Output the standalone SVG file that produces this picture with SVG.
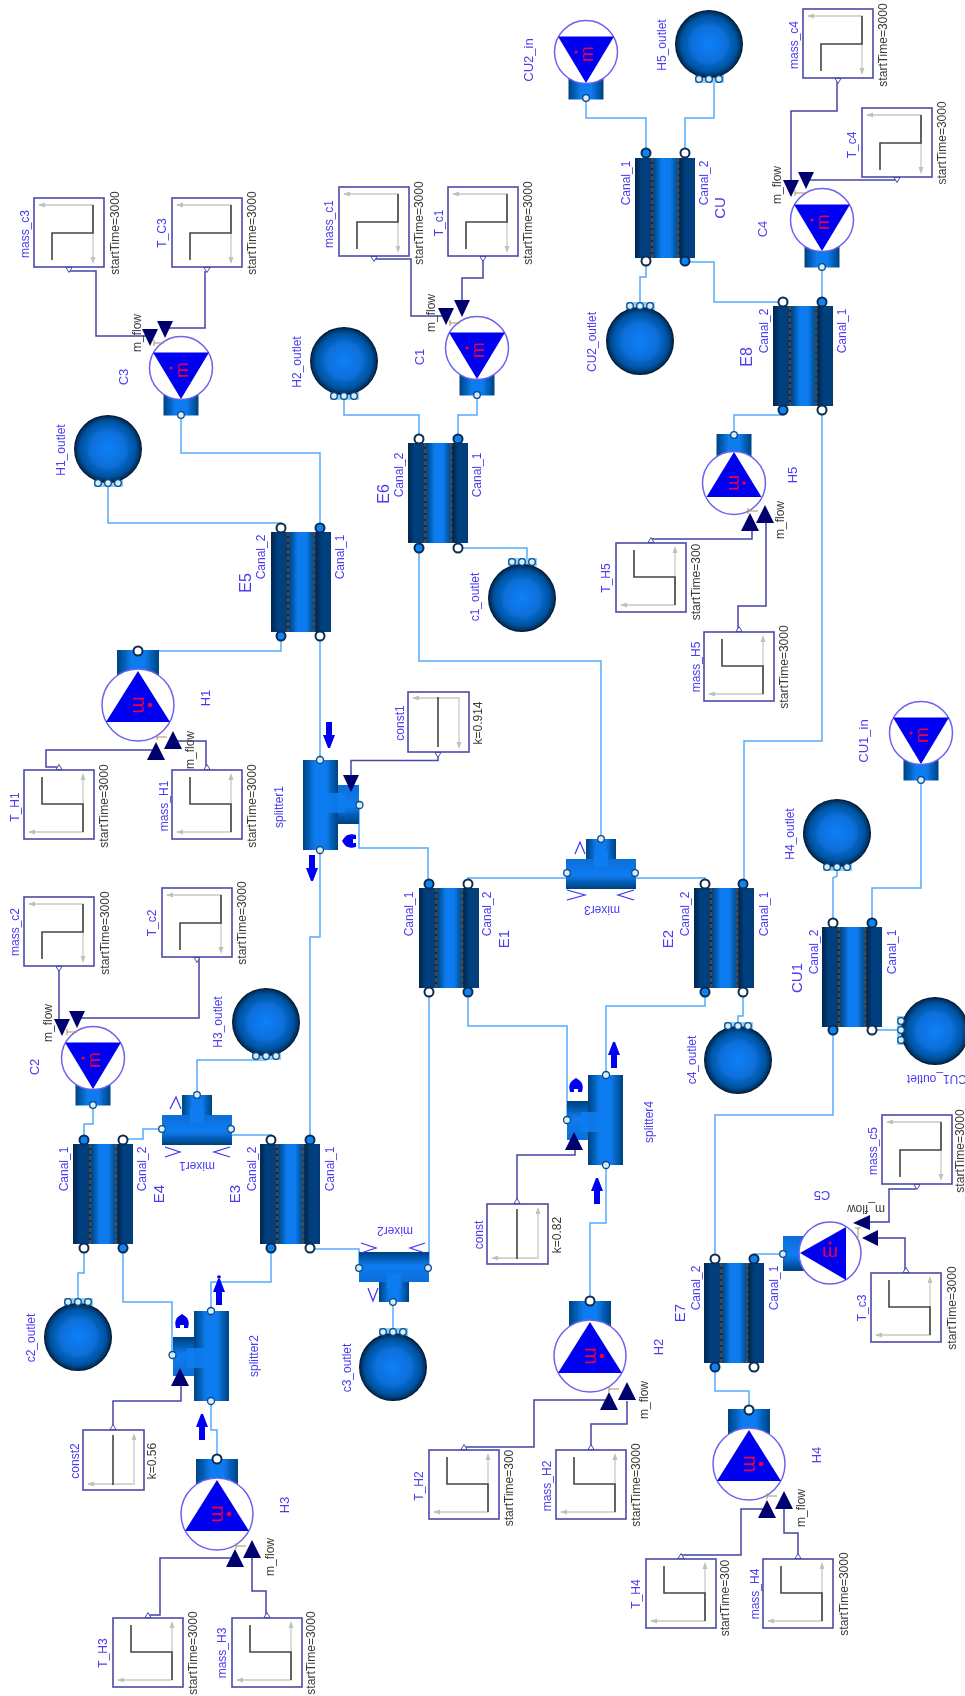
<svg xmlns="http://www.w3.org/2000/svg" width="965" height="1696" viewBox="0 0 965 1696">
<style>
text{font-family:"Liberation Sans",Arial,sans-serif;font-size:12px;text-anchor:middle}
.l{fill:#4a3cf0}
.g{fill:#3a3a3a}
.b{fill:#4a3cf0;font-size:15px}
.n{fill:#4a3cf0;font-size:13px}
.o{fill:#4a3cf0;font-size:12px}
.mm{fill:#f0003c;font-size:19px}
.w{fill:none;stroke:#55aaff;stroke-width:1.5}
.s{fill:none;stroke:#4646a6;stroke-width:1.5}
.pw{fill:#fff;stroke:#0c2c50;stroke-width:2}
.pb{fill:#0a84f5;stroke:#0c2c50;stroke-width:2}
.ps{fill:#d5edff;stroke:#0b4a80;stroke-width:1.3}
.v{fill:none;stroke:#3a30ff;stroke-width:1.2}
.nv{fill:#00006e}
.ar{fill:#0000f0}
.tk{fill:none;stroke:#a8925a;stroke-width:1}
.pt{fill:#8ccfff}
</style>
<defs>
<filter id="soft" x="0" y="0" width="100%" height="100%"><feGaussianBlur stdDeviation="0.45"/></filter>
<linearGradient id="gh"><stop offset="0" stop-color="#00427f"/><stop offset=".35" stop-color="#0a7cf0"/><stop offset=".65" stop-color="#0a7cf0"/><stop offset="1" stop-color="#00427f"/></linearGradient>
<linearGradient id="gv" x2="0" y2="1"><stop offset="0" stop-color="#0a6ed8"/><stop offset=".55" stop-color="#0a7cf0"/><stop offset="1" stop-color="#003f7c"/></linearGradient>
<linearGradient id="gsd"><stop offset="0" stop-color="#00254f"/><stop offset=".4" stop-color="#023f7e"/><stop offset="1" stop-color="#023f7e"/></linearGradient>
<radialGradient id="gr"><stop offset="0" stop-color="#0a80f8"/><stop offset=".5" stop-color="#0a70dc"/><stop offset=".82" stop-color="#00529e"/><stop offset=".95" stop-color="#00305f"/><stop offset="1" stop-color="#000c20"/></radialGradient>
<g id="hx">
<rect width="60" height="100" fill="#0d2c50"/>
<rect x=".5" width="15" height="100" fill="url(#gsd)"/>
<rect x="44.500" width="15" height="100" fill="url(#gsd)"/>
<rect x="18" width="26" height="100" fill="url(#gh)"/>
<path d="M17,0V100M43,0V100" stroke="#4a4a4a" stroke-width="2.500" stroke-dasharray="4 2" fill="none"/>
</g>
<g id="step">
<rect width="70" height="69" fill="#fff" stroke="#4a4aa8" stroke-width="1.600"/>
<path d="M5,7H59V64" fill="none" stroke="#c8c8c8" stroke-width="1.300"/>
<path d="M4,7l7-2.500v5zM59,66l-2.500-7h5z" fill="#c0c0c0"/>
<path d="M18,62V35H59V7" fill="none" stroke="#444" stroke-width="1.600"/>
<path d="M32,69.500h6l-3,5z" fill="#fff" stroke="#4a4aa8" stroke-width="1"/>
</g>
<g id="konst">
<rect width="61" height="60" fill="#fff" stroke="#4a4aa8" stroke-width="1.600"/>
<path d="M5,6H51V55" fill="none" stroke="#c8c8c8" stroke-width="1.300"/>
<path d="M4,6l7-2.500v5zM51,57l-2.500-7h5z" fill="#c0c0c0"/>
<path d="M30,5V55" fill="none" stroke="#444" stroke-width="1.600"/>
<path d="M27,60.500h6l-3,5z" fill="#fff" stroke="#4a4aa8" stroke-width="1"/>
</g>
<g id="pd">
<rect x="-17.500" y="10" width="35" height="37.500" fill="url(#gh)"/>
<circle r="31.500" fill="#fff" stroke="#6c62f0" stroke-width="1.500"/>
<path d="M-28,-15.500H28L0,31Z" fill="#0000f0"/>
<circle cx="-10" cy="0" r="1.600" fill="#f0003c"/>
</g>
<g id="pu">
<rect x="-21" y="-55" width="42" height="34" fill="url(#gh)"/>
<circle r="36" fill="#fff" stroke="#6c62f0" stroke-width="1.500"/>
<path d="M-32,17H32L0,-34Z" fill="#0000f0"/>
<circle cx="12" cy="0" r="2.200" fill="#f0003c"/>
</g>
<g id="pu5">
<rect x="-17.500" y="-49" width="35" height="28" fill="url(#gh)"/>
<circle r="31.500" fill="#fff" stroke="#6c62f0" stroke-width="1.500"/>
<path d="M-27.500,14H27.500L0,-31Z" fill="#0000f0"/>
<circle cx="10" cy="0" r="1.800" fill="#f0003c"/>
</g>
<circle id="sk" r="34" fill="url(#gr)"/>
<path id="td" class="nv" d="M-8,0H8L0,17Z"/>
<path id="tu" class="nv" d="M-9,18H9L0,0Z"/>
<path id="ad" class="ar" d="M-3,-13H3V0H6L1,13H-1L-6,0H-3Z"/>
<path id="bl" class="ar" d="M-7,0C-5,-3 -3,-6 -1,-6C1,-7 3,-7 7,-6V-2H4V2H7V6C3,7 1,7 -1,6C-3,6 -5,3 -7,0Z"/>
<path id="tg" class="tk" d="M-5,0H5M-5,-3V3"/>
<g id="spl">
<rect x="33" y="25" width="23" height="39" fill="url(#gv)"/>
<rect width="35" height="90" fill="url(#gh)"/>
<rect x="22" y="33" width="20" height="20" fill="#0a7cf0" opacity=".9"/>
</g>
<g id="mix">
<rect x="20" y="0" width="30" height="25" fill="url(#gh)"/>
<rect x="0" y="20" width="70" height="30" fill="url(#gv)"/>
<rect x="28" y="14" width="14" height="14" fill="#0a7cf0"/>
</g>
</defs>
<rect width="965" height="1696" fill="#fff"/>
<g id="diagram" filter="url(#soft)">
<g id="connectors">
<path class="w" d="M181,416V453H320V528"/>
<path class="w" d="M108,483V523H281V528"/>
<path class="w" d="M281,636V651H138"/>
<path class="w" d="M320,636V760"/>
<path class="w" d="M359,805V848H428V884"/>
<path class="w" d="M320,850V937H310V1140"/>
<path class="w" d="M419,548V661H601V839"/>
<path class="w" d="M477,395V415H458V439"/>
<path class="w" d="M344,396V415H419V439"/>
<path class="w" d="M458,548H527V562"/>
<path class="w" d="M586,98V118H646V153"/>
<path class="w" d="M714,79V118H685V153"/>
<path class="w" d="M646,261V277H640V306"/>
<path class="w" d="M685,262H714V302H783"/>
<path class="w" d="M822,267V302"/>
<path class="w" d="M783,410V415H734V435"/>
<path class="w" d="M822,410V741H744V884"/>
<path class="w" d="M635,873V878H705V884"/>
<path class="w" d="M567,873V878H468V884"/>
<path class="w" d="M468,992V1026H567V1120"/>
<path class="w" d="M429,992V1268"/>
<path class="w" d="M705,992V1006H606V1075"/>
<path class="w" d="M743,992V1016H738V1026"/>
<path class="w" d="M833,923V878L837,876V867"/>
<path class="w" d="M872,923V888H921V780"/>
<path class="w" d="M872,1030H901"/>
<path class="w" d="M833,1030V1115H715V1259"/>
<path class="w" d="M754,1259V1254H783"/>
<path class="w" d="M715,1367V1391H749V1410"/>
<path class="w" d="M590,1301V1223H606V1165"/>
<path class="w" d="M217,1459V1430H211V1401"/>
<path class="w" d="M271,1248V1282H211V1311"/>
<path class="w" d="M310,1248V1249H359V1268"/>
<path class="w" d="M123,1248V1302H172V1355"/>
<path class="w" d="M84,1248V1273H78V1302"/>
<path class="w" d="M393,1302V1332"/>
<path class="w" d="M162,1129H143V1139H128"/>
<path class="w" d="M231,1129V1135H271V1140"/>
<path class="w" d="M197,1095V1060H266V1056"/>
<path class="w" d="M93,1105V1124H84V1140"/>
<path class="s" d="M69,271H96V336H150"/>
<path class="s" d="M205,271V328H165"/>
<path class="s" d="M374,259H411V316H446"/>
<path class="s" d="M483,259V278H462V300"/>
<path class="s" d="M837,79V111H791V180"/>
<path class="s" d="M897,180H806"/>
<path class="s" d="M59,966V1019"/>
<path class="s" d="M199,957V1018H77"/>
<path class="s" d="M59,767H46V750H156"/>
<path class="s" d="M206,770V741H173"/>
<path class="s" d="M147,1615H160V1558H235"/>
<path class="s" d="M266,1618V1591H252V1558"/>
<path class="s" d="M463,1447H534V1400H609"/>
<path class="s" d="M591,1450V1424H627V1401"/>
<path class="s" d="M680,1555H741V1509H767"/>
<path class="s" d="M798,1559V1533H784V1509"/>
<path class="s" d="M651,539H752V529"/>
<path class="s" d="M738,631V606H766V522"/>
<path class="s" d="M916,1189H889V1222H870"/>
<path class="s" d="M905,1270V1238H878"/>
<path class="s" d="M438,755V760.500H351V775"/>
<path class="s" d="M113,1426V1401H181V1386"/>
<path class="s" d="M517,1204V1155H575V1150"/>
</g>
<g id="E5"><use href="#hx" transform="translate(271,532)"/><circle class="pw" cx="281" cy="528" r="4.500"/><circle class="pb" cx="320" cy="528" r="4.500"/><circle class="pb" cx="281" cy="636" r="4.500"/><circle class="pw" cx="320" cy="636" r="4.500"/><text class="l" transform="translate(265,557) rotate(-90)">Canal_2</text><text class="l" transform="translate(344,557) rotate(-90)">Canal_1</text><text class="b" transform="translate(251,583) rotate(-90)" style="font-size:16px">E5</text></g>
<g id="E6"><use href="#hx" transform="translate(408,443)"/><circle class="pw" cx="419" cy="439" r="4.500"/><circle class="pb" cx="458" cy="439" r="4.500"/><circle class="pb" cx="419" cy="548" r="4.500"/><circle class="pw" cx="458" cy="548" r="4.500"/><text class="l" transform="translate(403,475) rotate(-90)">Canal_2</text><text class="l" transform="translate(481,475) rotate(-90)">Canal_1</text><text class="b" transform="translate(389,494) rotate(-90)" style="font-size:16px">E6</text></g>
<g id="CU"><use href="#hx" transform="translate(635,158)"/><circle class="pb" cx="646" cy="153" r="4.500"/><circle class="pw" cx="685" cy="153" r="4.500"/><circle class="pw" cx="646" cy="261" r="4.500"/><circle class="pb" cx="685" cy="261" r="4.500"/><text class="l" transform="translate(630,183) rotate(-90)">Canal_1</text><text class="l" transform="translate(708,183) rotate(-90)">Canal_2</text><text class="b" transform="translate(725,208) rotate(-90)">CU</text></g>
<g id="E8"><use href="#hx" transform="translate(773,306)"/><circle class="pw" cx="783" cy="302" r="4.500"/><circle class="pb" cx="822" cy="302" r="4.500"/><circle class="pb" cx="783" cy="410" r="4.500"/><circle class="pw" cx="822" cy="410" r="4.500"/><text class="l" transform="translate(768,331) rotate(-90)">Canal_2</text><text class="l" transform="translate(846,331) rotate(-90)">Canal_1</text><text class="b" transform="translate(752,357) rotate(-90)" style="font-size:16px">E8</text></g>
<g id="E1"><use href="#hx" transform="translate(419,888)"/><circle class="pb" cx="429" cy="884" r="4.500"/><circle class="pw" cx="468" cy="884" r="4.500"/><circle class="pw" cx="429" cy="992" r="4.500"/><circle class="pb" cx="468" cy="992" r="4.500"/><text class="l" transform="translate(413,914) rotate(-90)">Canal_1</text><text class="l" transform="translate(491,914) rotate(-90)">Canal_2</text><text class="b" transform="translate(509,939) rotate(-90)">E1</text></g>
<g id="E2"><use href="#hx" transform="translate(694,888)"/><circle class="pw" cx="705" cy="884" r="4.500"/><circle class="pb" cx="743" cy="884" r="4.500"/><circle class="pb" cx="705" cy="992" r="4.500"/><circle class="pw" cx="743" cy="992" r="4.500"/><text class="l" transform="translate(689,914) rotate(-90)">Canal_2</text><text class="l" transform="translate(768,914) rotate(-90)">Canal_1</text><text class="b" transform="translate(673,939) rotate(-90)">E2</text></g>
<g id="CU1"><use href="#hx" transform="translate(822,927)"/><circle class="pw" cx="833" cy="923" r="4.500"/><circle class="pb" cx="872" cy="923" r="4.500"/><circle class="pb" cx="833" cy="1030" r="4.500"/><circle class="pw" cx="872" cy="1030" r="4.500"/><text class="l" transform="translate(818,952) rotate(-90)">Canal_2</text><text class="l" transform="translate(896,952) rotate(-90)">Canal_1</text><text class="b" transform="translate(802,978) rotate(-90)">CU1</text></g>
<g id="E4"><use href="#hx" transform="translate(73,1144)"/><circle class="pb" cx="84" cy="1140" r="4.500"/><circle class="pw" cx="123" cy="1140" r="4.500"/><circle class="pw" cx="84" cy="1248" r="4.500"/><circle class="pb" cx="123" cy="1248" r="4.500"/><text class="l" transform="translate(68,1169) rotate(-90)">Canal_1</text><text class="l" transform="translate(146,1169) rotate(-90)">Canal_2</text><text class="b" transform="translate(164,1194) rotate(-90)">E4</text></g>
<g id="E3"><use href="#hx" transform="translate(260,1144)"/><circle class="pw" cx="271" cy="1140" r="4.500"/><circle class="pb" cx="310" cy="1140" r="4.500"/><circle class="pb" cx="271" cy="1248" r="4.500"/><circle class="pw" cx="310" cy="1248" r="4.500"/><text class="l" transform="translate(256,1169) rotate(-90)">Canal_2</text><text class="l" transform="translate(334,1169) rotate(-90)">Canal_1</text><text class="b" transform="translate(240,1194) rotate(-90)">E3</text></g>
<g id="E7"><use href="#hx" transform="translate(704,1263)"/><circle class="pw" cx="715" cy="1259" r="4.500"/><circle class="pb" cx="754" cy="1259" r="4.500"/><circle class="pb" cx="715" cy="1367" r="4.500"/><circle class="pw" cx="754" cy="1367" r="4.500"/><text class="l" transform="translate(700,1288) rotate(-90)">Canal_2</text><text class="l" transform="translate(778,1288) rotate(-90)">Canal_1</text><text class="b" transform="translate(685,1313) rotate(-90)">E7</text></g>

<g id="C3"><use href="#pd" transform="translate(181,368)"/><text class="mm" transform="translate(188,370) rotate(-90)">m</text><circle class="ps" cx="181" cy="415" r="3.300"/><text class="g" transform="translate(141,333) rotate(-90)">m_flow</text><use href="#td" transform="translate(150,329)"/><use href="#td" transform="translate(165,321)"/><use href="#tg" transform="translate(159,343)"/><text class="n" transform="translate(128,377) rotate(-90)">C3</text></g>
<g id="C1"><use href="#pd" transform="translate(477,348)"/><text class="mm" transform="translate(484,350) rotate(-90)">m</text><circle class="ps" cx="477" cy="395" r="3.300"/><text class="g" transform="translate(435,313) rotate(-90)">m_flow</text><use href="#td" transform="translate(446,308)"/><use href="#td" transform="translate(462,300)"/><use href="#tg" transform="translate(455,323)"/><text class="n" transform="translate(424,357) rotate(-90)">C1</text></g>
<g id="C4"><use href="#pd" transform="translate(822,220)"/><text class="mm" transform="translate(829,222) rotate(-90)">m</text><circle class="ps" cx="822" cy="267" r="3.300"/><text class="g" transform="translate(781,185) rotate(-90)">m_flow</text><use href="#td" transform="translate(791,180)"/><use href="#td" transform="translate(806,172)"/><use href="#tg" transform="translate(800,193)"/><text class="n" transform="translate(767,229) rotate(-90)">C4</text></g>
<g id="CU2_in"><use href="#pd" transform="translate(586,52)"/><text class="mm" transform="translate(593,54) rotate(-90)">m</text><circle class="ps" cx="586" cy="98" r="3.300"/><text class="n" transform="translate(533,60) rotate(-90)">CU2_in</text></g>
<g id="CU1_in"><use href="#pd" transform="translate(921,733)"/><text class="mm" transform="translate(928,735) rotate(-90)">m</text><circle class="ps" cx="921" cy="780" r="3.300"/><text class="n" transform="translate(868,741) rotate(-90)">CU1_in</text></g>
<g id="C2"><use href="#pd" transform="translate(93,1058)"/><text class="mm" transform="translate(100,1060) rotate(-90)">m</text><circle class="ps" cx="93" cy="1105" r="3.300"/><text class="g" transform="translate(52,1023) rotate(-90)">m_flow</text><use href="#td" transform="translate(62,1019)"/><use href="#td" transform="translate(77,1011)"/><use href="#tg" transform="translate(72,1032)"/><text class="n" transform="translate(39,1067) rotate(-90)">C2</text></g>

<g id="H1"><use href="#pu" transform="translate(138,705)"/><text class="mm" transform="translate(133,705) rotate(90)" style="font-size:21px">m</text><circle class="pw" cx="138" cy="651" r="4.500"/><text class="g" transform="translate(194,750) rotate(-90)">m_flow</text><use href="#tu" transform="translate(156,742)"/><use href="#tu" transform="translate(173,731)"/><use href="#tg" transform="translate(162,737)"/><text class="n" transform="translate(210,698) rotate(-90)">H1</text></g>
<g id="H3"><use href="#pu" transform="translate(217,1514)"/><text class="mm" transform="translate(212,1514) rotate(90)" style="font-size:21px">m</text><circle class="pw" cx="217" cy="1459" r="4.500"/><text class="g" transform="translate(274,1557) rotate(-90)">m_flow</text><use href="#tu" transform="translate(235,1549)"/><use href="#tu" transform="translate(252,1540)"/><use href="#tg" transform="translate(241,1546)"/><text class="n" transform="translate(289,1505) rotate(-90)">H3</text></g>
<g id="H2"><use href="#pu" transform="translate(590,1356)"/><text class="mm" transform="translate(585,1356) rotate(90)" style="font-size:21px">m</text><circle class="pw" cx="590" cy="1301" r="4.500"/><text class="g" transform="translate(648,1400) rotate(-90)">m_flow</text><use href="#tu" transform="translate(609,1392)"/><use href="#tu" transform="translate(627,1382)"/><use href="#tg" transform="translate(614,1389)"/><text class="n" transform="translate(663,1347) rotate(-90)">H2</text></g>
<g id="H4"><use href="#pu" transform="translate(749,1464)"/><text class="mm" transform="translate(744,1464) rotate(90)" style="font-size:21px">m</text><circle class="pw" cx="749" cy="1410" r="4.500"/><text class="g" transform="translate(805,1508) rotate(-90)">m_flow</text><use href="#tu" transform="translate(767,1500)"/><use href="#tu" transform="translate(784,1491)"/><use href="#tg" transform="translate(772,1496)"/><text class="n" transform="translate(821,1455) rotate(-90)">H4</text></g>
<g id="H5"><use href="#pu5" transform="translate(734,483)"/><text class="mm" transform="translate(729,483) rotate(90)">m</text><circle class="ps" cx="734" cy="435" r="3.300"/><text class="g" transform="translate(784,520) rotate(-90)">m_flow</text><use href="#tu" transform="translate(750,513)"/><use href="#tu" transform="translate(765,505)"/><use href="#tg" transform="translate(753,511)"/><text class="n" transform="translate(797,475) rotate(-90)">H5</text></g>
<g id="C5"><rect x="783" y="1236" width="30" height="35" fill="url(#gv)"/><circle cx="830" cy="1253" r="31" fill="#fff" stroke="#6c62f0" stroke-width="1.500"/><path d="M800,1253L846,1227V1280Z" fill="#0000f0"/><circle cx="830" cy="1243" r="1.600" fill="#f0003c"/><text class="mm" transform="translate(830,1247) rotate(180)">m</text><circle class="ps" cx="783" cy="1254" r="3.300"/><text class="g" transform="translate(866,1205) rotate(180)">m_flow</text><path class="nv" d="M853,1223L870,1215V1230Z"/><path class="nv" d="M862,1238L878,1230V1246Z"/><use href="#tg" transform="translate(858,1233) rotate(90)"/><text class="n" transform="translate(822,1191) rotate(180)">C5</text></g>

<g id="H1_outlet"><rect class="pt" x="94" y="479" width="29" height="8"/><use href="#sk" transform="translate(108,449)"/><circle class="ps" cx="98" cy="483" r="3.300"/><circle class="ps" cx="108" cy="483" r="3.300"/><circle class="ps" cx="118" cy="483" r="3.300"/><text class="o" transform="translate(65,450) rotate(-90)">H1_outlet</text></g>
<g id="H2_outlet"><rect class="pt" x="330" y="392" width="29" height="8"/><use href="#sk" transform="translate(344,361)"/><circle class="ps" cx="334" cy="396" r="3.300"/><circle class="ps" cx="344" cy="396" r="3.300"/><circle class="ps" cx="354" cy="396" r="3.300"/><text class="o" transform="translate(301,362) rotate(-90)">H2_outlet</text></g>
<g id="H5_outlet"><rect class="pt" x="695" y="75" width="29" height="8"/><use href="#sk" transform="translate(709,44)"/><circle class="ps" cx="699" cy="79" r="3.300"/><circle class="ps" cx="709" cy="79" r="3.300"/><circle class="ps" cx="719" cy="79" r="3.300"/><text class="o" transform="translate(666,45) rotate(-90)">H5_outlet</text></g>
<g id="CU2_outlet"><rect class="pt" x="626" y="302" width="29" height="8"/><use href="#sk" transform="translate(640,341)"/><circle class="ps" cx="630" cy="306" r="3.300"/><circle class="ps" cx="640" cy="306" r="3.300"/><circle class="ps" cx="650" cy="306" r="3.300"/><text class="o" transform="translate(596,342) rotate(-90)">CU2_outlet</text></g>
<g id="c1_outlet"><rect class="pt" x="508" y="558" width="29" height="8"/><use href="#sk" transform="translate(522,598)"/><circle class="ps" cx="512" cy="562" r="3.300"/><circle class="ps" cx="522" cy="562" r="3.300"/><circle class="ps" cx="532" cy="562" r="3.300"/><text class="o" transform="translate(479,597) rotate(-90)">c1_outlet</text></g>
<g id="H3_outlet"><rect class="pt" x="252" y="1052" width="29" height="8"/><use href="#sk" transform="translate(266,1022)"/><circle class="ps" cx="256" cy="1056" r="3.300"/><circle class="ps" cx="266" cy="1056" r="3.300"/><circle class="ps" cx="276" cy="1056" r="3.300"/><text class="o" transform="translate(222,1022) rotate(-90)">H3_outlet</text></g>
<g id="c2_outlet"><rect class="pt" x="64" y="1298" width="29" height="8"/><use href="#sk" transform="translate(78,1337)"/><circle class="ps" cx="68" cy="1302" r="3.300"/><circle class="ps" cx="78" cy="1302" r="3.300"/><circle class="ps" cx="88" cy="1302" r="3.300"/><text class="o" transform="translate(35,1338) rotate(-90)">c2_outlet</text></g>
<g id="c3_outlet"><rect class="pt" x="379" y="1328" width="29" height="8"/><use href="#sk" transform="translate(393,1367)"/><circle class="ps" cx="383" cy="1332" r="3.300"/><circle class="ps" cx="393" cy="1332" r="3.300"/><circle class="ps" cx="403" cy="1332" r="3.300"/><text class="o" transform="translate(351,1368) rotate(-90)">c3_outlet</text></g>
<g id="c4_outlet"><rect class="pt" x="724" y="1022" width="29" height="8"/><use href="#sk" transform="translate(738,1060)"/><circle class="ps" cx="728" cy="1026" r="3.300"/><circle class="ps" cx="738" cy="1026" r="3.300"/><circle class="ps" cx="748" cy="1026" r="3.300"/><text class="o" transform="translate(696,1060) rotate(-90)">c4_outlet</text></g>
<g id="H4_outlet"><rect class="pt" x="823" y="863" width="29" height="8"/><use href="#sk" transform="translate(837,833)"/><circle class="ps" cx="827" cy="867" r="3.300"/><circle class="ps" cx="837" cy="867" r="3.300"/><circle class="ps" cx="847" cy="867" r="3.300"/><text class="o" transform="translate(794,834) rotate(-90)">H4_outlet</text></g>
<g id="CU1_outlet"><rect class="pt" x="897" y="1016" width="8" height="29"/><use href="#sk" transform="translate(935,1031)"/><circle class="ps" cx="901" cy="1021" r="3.300"/><circle class="ps" cx="901" cy="1030" r="3.300"/><circle class="ps" cx="901" cy="1040" r="3.300"/><text class="o" transform="translate(937,1075) rotate(180)">CU1_outlet</text></g>

<g id="mass_c3"><use href="#step" transform="translate(34,198)"/><text class="l" transform="translate(29,234) rotate(-90)">mass_c3</text><text class="g" transform="translate(119,233) rotate(-90)">startTime=3000</text></g>
<g id="T_C3"><use href="#step" transform="translate(172,198)"/><text class="l" transform="translate(166,233) rotate(-90)">T_C3</text><text class="g" transform="translate(256,233) rotate(-90)">startTime=3000</text></g>
<g id="mass_c1"><use href="#step" transform="translate(339,187)"/><text class="l" transform="translate(333,224) rotate(-90)">mass_c1</text><text class="g" transform="translate(423,223) rotate(-90)">startTime=3000</text></g>
<g id="T_c1"><use href="#step" transform="translate(448,187)"/><text class="l" transform="translate(443,223) rotate(-90)">T_c1</text><text class="g" transform="translate(532,223) rotate(-90)">startTime=3000</text></g>
<g id="mass_c4"><use href="#step" transform="translate(803,9)"/><text class="l" transform="translate(798,45) rotate(-90)">mass_c4</text><text class="g" transform="translate(887,45) rotate(-90)">startTime=3000</text></g>
<g id="T_c4"><use href="#step" transform="translate(862,108)"/><text class="l" transform="translate(856,145) rotate(-90)">T_c4</text><text class="g" transform="translate(946,143) rotate(-90)">startTime=3000</text></g>
<g id="mass_c2"><use href="#step" transform="translate(24,897)"/><text class="l" transform="translate(19,932) rotate(-90)">mass_c2</text><text class="g" transform="translate(109,933) rotate(-90)">startTime=3000</text></g>
<g id="T_c2"><use href="#step" transform="translate(162,888)"/><text class="l" transform="translate(156,923) rotate(-90)">T_c2</text><text class="g" transform="translate(246,923) rotate(-90)">startTime=3000</text></g>
<g id="mass_c5"><use href="#step" transform="translate(882,1115)"/><text class="l" transform="translate(877,1151) rotate(-90)">mass_c5</text><text class="g" transform="translate(964,1151) rotate(-90)">startTime=3000</text></g>
<g id="T_H1"><use href="#step" transform="translate(24,839) scale(1,-1)"/><text class="l" transform="translate(19,807) rotate(-90)">T_H1</text><text class="g" transform="translate(108,806) rotate(-90)">startTime=3000</text></g>
<g id="mass_H1"><use href="#step" transform="translate(172,839) scale(1,-1)"/><text class="l" transform="translate(168,806) rotate(-90)">mass_H1</text><text class="g" transform="translate(256,806) rotate(-90)">startTime=3000</text></g>
<g id="T_H3"><use href="#step" transform="translate(113,1687) scale(1,-1)"/><text class="l" transform="translate(107,1653) rotate(-90)">T_H3</text><text class="g" transform="translate(197,1653) rotate(-90)">startTime=3000</text></g>
<g id="mass_H3"><use href="#step" transform="translate(232,1687) scale(1,-1)"/><text class="l" transform="translate(226,1653) rotate(-90)">mass_H3</text><text class="g" transform="translate(315,1653) rotate(-90)">startTime=3000</text></g>
<g id="T_H2"><use href="#step" transform="translate(429,1519) scale(1,-1)"/><text class="l" transform="translate(423,1486) rotate(-90)">T_H2</text><text class="g" transform="translate(513,1488) rotate(-90)">startTime=300</text></g>
<g id="mass_H2"><use href="#step" transform="translate(556,1519) scale(1,-1)"/><text class="l" transform="translate(551,1486) rotate(-90)">mass_H2</text><text class="g" transform="translate(640,1485) rotate(-90)">startTime=3000</text></g>
<g id="T_H4"><use href="#step" transform="translate(646,1628) scale(1,-1)"/><text class="l" transform="translate(640,1594) rotate(-90)">T_H4</text><text class="g" transform="translate(729,1598) rotate(-90)">startTime=300</text></g>
<g id="mass_H4"><use href="#step" transform="translate(763,1628) scale(1,-1)"/><text class="l" transform="translate(759,1594) rotate(-90)">mass_H4</text><text class="g" transform="translate(848,1594) rotate(-90)">startTime=3000</text></g>
<g id="T_c3"><use href="#step" transform="translate(871,1342) scale(1,-1)"/><text class="l" transform="translate(866,1308) rotate(-90)">T_c3</text><text class="g" transform="translate(956,1308) rotate(-90)">startTime=3000</text></g>
<g id="T_H5"><use href="#step" transform="translate(616,612) scale(1,-1)"/><text class="l" transform="translate(610,578) rotate(-90)">T_H5</text><text class="g" transform="translate(700,582) rotate(-90)">startTime=300</text></g>
<g id="mass_H5"><use href="#step" transform="translate(704,701) scale(1,-1)"/><text class="l" transform="translate(700,667) rotate(-90)">mass_H5</text><text class="g" transform="translate(788,667) rotate(-90)">startTime=3000</text></g>
<g id="const1"><use href="#konst" transform="translate(408,692)"/><text class="l" transform="translate(404,723) rotate(-90)">const1</text><text class="g" transform="translate(482,723) rotate(-90)">k=0.914</text></g>
<g id="const2"><use href="#konst" transform="translate(83,1490) scale(1,-1)"/><text class="l" transform="translate(79,1461) rotate(-90)">const2</text><text class="g" transform="translate(156,1461) rotate(-90)">k=0.56</text></g>
<g id="const"><use href="#konst" transform="translate(487,1264) scale(1,-1)"/><text class="l" transform="translate(483,1235) rotate(-90)">const</text><text class="g" transform="translate(561,1235) rotate(-90)">k=0.82</text></g>

<g id="splitter1"><use href="#spl" transform="translate(303,760)"/><use href="#td" transform="translate(351,775)"/><circle class="ps" cx="320" cy="760" r="3.500"/><circle class="ps" cx="320" cy="850" r="3.500"/><circle class="ps" cx="359.500" cy="805" r="3.500"/><use href="#ad" transform="translate(329,735)"/><use href="#ad" transform="translate(312,868)"/><use href="#bl" transform="translate(349,841)"/><text class="l" transform="translate(283,807) rotate(-90)">splitter1</text></g>
<g id="splitter2"><use href="#spl" transform="translate(229,1401) scale(-1,-1)"/><use href="#tu" transform="translate(180,1368)"/><circle class="ps" cx="211" cy="1311" r="3.500"/><circle class="ps" cx="211" cy="1401" r="3.500"/><circle class="ps" cx="172.500" cy="1355" r="3.500"/><use href="#ad" transform="translate(219,1292) rotate(180)"/><circle class="ar" cx="219" cy="1277" r="1.800"/><use href="#ad" transform="translate(202,1427) rotate(180)"/><use href="#bl" transform="translate(182,1321) rotate(90)"/><text class="l" transform="translate(258,1356) rotate(-90)">splitter2</text></g>
<g id="splitter4"><use href="#spl" transform="translate(623,1165) scale(-1,-1)"/><use href="#tu" transform="translate(574,1132)"/><circle class="ps" cx="606" cy="1075" r="3.500"/><circle class="ps" cx="606" cy="1165" r="3.500"/><circle class="ps" cx="567" cy="1120" r="3.500"/><use href="#ad" transform="translate(614,1055) rotate(180)"/><use href="#bl" transform="translate(576,1085) rotate(90)"/><use href="#ad" transform="translate(597,1191) rotate(180)"/><text class="l" transform="translate(653,1122) rotate(-90)">splitter4</text></g>
<g id="mixer1"><use href="#mix" transform="translate(162,1095)"/><circle class="ps" cx="197" cy="1095" r="3.300"/><circle class="ps" cx="162" cy="1129" r="3.300"/><circle class="ps" cx="231" cy="1129" r="3.300"/><path class="v" d="M170,1109L176,1097L181,1109M165,1147L180,1152L165,1157M230,1147L214,1152L230,1157"/><text class="l" transform="translate(197,1162) rotate(180)">mixer1</text></g>
<g id="mixer2"><use href="#mix" transform="translate(429,1302) rotate(180)"/><circle class="ps" cx="393" cy="1302" r="3.300"/><circle class="ps" cx="359" cy="1268" r="3.300"/><circle class="ps" cx="428" cy="1268" r="3.300"/><path class="v" d="M361,1243L376,1248L361,1253M425,1243L410,1248L425,1253M368,1288L373,1301L378,1288"/><text class="l" transform="translate(395,1227) rotate(180)">mixer2</text></g>
<g id="mixer3"><use href="#mix" transform="translate(566,839)"/><circle class="ps" cx="601" cy="839" r="3.300"/><circle class="ps" cx="567" cy="873" r="3.300"/><circle class="ps" cx="635" cy="873" r="3.300"/><path class="v" d="M575,854L580,842L585,854M567,890L585,895L567,900M634,890L618,895L634,900"/><text class="l" transform="translate(602,906) rotate(180)">mixer3</text></g>
</g>
</svg>
